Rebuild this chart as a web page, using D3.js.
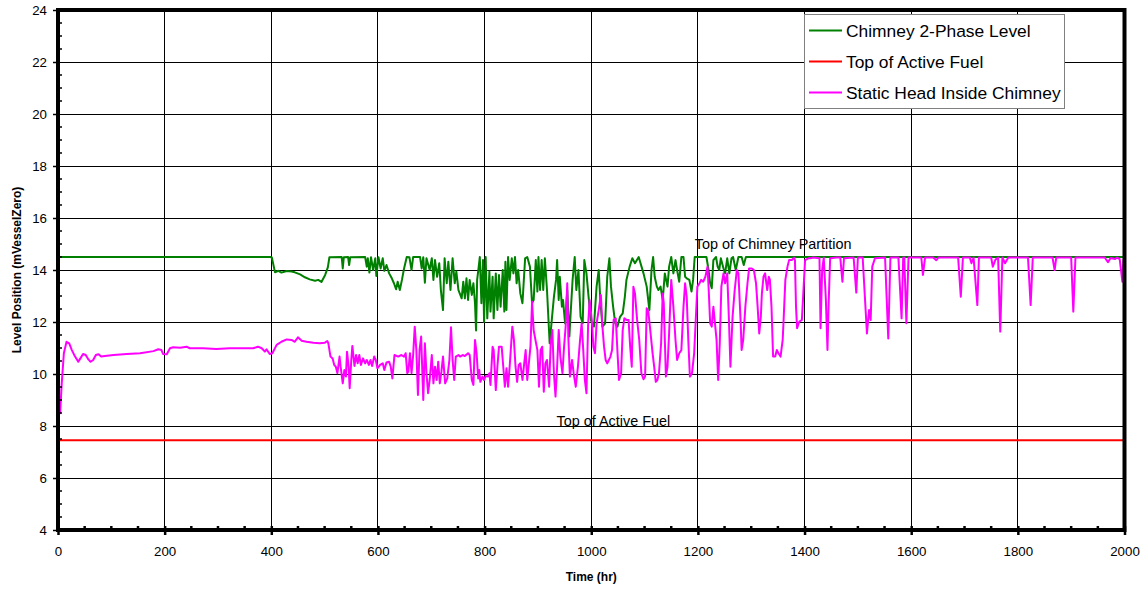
<!DOCTYPE html>
<html>
<head>
<meta charset="utf-8">
<script src="https://cdn.jsdelivr.net/npm/d3@7"></script>
<style>
  html, body { margin: 0; padding: 0; background: #fff; }
  svg { display: block; font-family: "Liberation Sans", Arial, sans-serif; }
</style>
</head>
<body>
<svg id="chart" width="1147" height="590"></svg>
<script>
// ---------------- DATA ----------------
const xTicks = [0, 200, 400, 600, 800, 1000, 1200, 1400, 1600, 1800, 2000];
const yTicks = [4, 6, 8, 10, 12, 14, 16, 18, 20, 22, 24];
const seriesNames = ["Chimney 2-Phase Level", "Top of Active Fuel", "Static Head Inside Chimney"];
const seriesColors = ["#008000", "#ff0000", "#ff00ff"];
const annotations = [
  { text: "Top of Chimney Partition", t: 1194, v: 14.82 },
  { text: "Top of Active Fuel", t: 935, v: 8.0 }
];

// Top of active fuel (constant)
const topOfActiveFuel = [[0, 7.45], [2000, 7.45]];

// Chimney 2-phase level [time (hr), level (m)]
const chimneyLevel = [
  [0,14.5],[398,14.5],[401,14.48],[407,13.91],[413,13.97],[419,13.9],[429,13.96],[438,13.94],[444,13.91],
  [454,13.83],[463,13.72],[472,13.64],[482,13.59],[488,13.62],[494,13.54],[501,13.81],[506,14.1],[509,14.49],
  [532,14.5],[534,14.06],[536,14.49],[544,14.5],[546,14.19],[548,14.49],[576,14.5],[579,14.13],[581,14.45],
  [584,13.9],[587,14.49],[591,14.0],[595,14.45],[597,13.77],[601,14.49],[605,14.06],[609,14.45],[612,13.97],
  [616,14.19],[621,13.87],[626,13.68],[630,13.49],[634,13.26],[637,13.55],[641,13.23],[645,13.62],[649,14.06],
  [654,14.5],[659,14.49],[663,14.0],[666,14.5],[679,14.5],[682,14.06],[685,14.49],[688,13.51],[691,14.45],
  [697,14.0],[701,14.45],[704,13.62],[707,14.38],[711,13.74],[715,14.26],[718,13.23],[722,12.46],[725,14.45],
  [729,13.49],[732,14.32],[736,13.23],[740,14.45],[744,13.49],[747,13.94],[751,13.23],
  [757,12.91],[760,13.55],[763,12.91],[766,13.68],[769,12.85],[772,13.62],[776,13.04],[779,13.49],[782,12.72],
  [784,11.67],[786,13.62],[789,14.13],[791,14.5],[794,12.72],[797,14.38],[799,12.0],[802,14.5],[805,12.14],
  [809,13.94],[811,12.4],[815,13.74],[817,12.14],[821,13.87],[824,12.46],[827,13.81],[830,12.59],[834,14.0],
  [837,12.4],[839,14.32],[841,12.46],[844,14.5],[847,13.62],[851,14.45],[854,13.87],[857,14.5],[860,13.49],
  [863,14.0],[867,13.1],[871,12.72],[876,14.45],[880,14.5],[885,14.13],[889,12.72],[892,12.85],[896,14.38],
  [899,13.17],[901,14.5],[904,13.23],[907,14.38],[910,13.23],[913,14.45],[917,13.23],[922,11.18],[926,12.08],
  [930,12.97],[934,13.62],[936,14.38],[939,12.85],[941,13.74],[945,12.59],[947,12.85],[951,11.95],[955,13.23],
  [959,11.44],[961,12.2],[965,13.62],[969,14.5],[972,13.23],[976,14.0],[980,12.2],[984,11.95],[987,14.38],
  [991,13.87],[995,12.97],[999,12.08],[1005,11.82],[1010,13.36],[1014,14.0],[1017,12.85],[1021,11.82],
  [1026,11.95],[1030,13.74],[1034,14.45],[1037,13.36],[1041,12.59],[1045,11.95],[1049,11.82],[1054,12.2],
  [1059,12.33],[1063,12.97],[1066,13.62],[1072,14.13],[1077,14.45],[1082,14.26],[1089,14.5],
  [1098,13.87],[1104,13.36],[1109,12.46],[1113,14.0],[1116,14.5],[1119,13.74],[1123,13.36],[1126,13.23],
  [1130,13.36],[1134,12.85],[1138,13.87],[1143,13.36],[1146,14.13],[1150,14.5],[1154,13.87],[1158,14.38],
  [1161,14.0],[1165,13.55],[1169,14.5],[1173,14.5],[1176,13.74],[1179,13.68],[1184,13.62],[1188,13.17],
  [1191,13.62],[1194,14.5],[1216,14.5],[1220,14.0],[1223,13.49],[1226,13.3],[1229,14.38],[1234,14.5],
  [1237,14.13],[1240,14.0],[1243,14.45],[1248,14.06],[1251,13.87],[1255,14.45],[1259,13.87],[1263,14.45],
  [1266,14.5],[1271,14.0],[1276,14.5],[1282,14.5],[1286,14.19],[1290,14.5],[2000,14.5]
];

// Static head inside chimney [time (hr), level (m)]
const staticHead = [
  [0,8.62],[4,8.49],[7,9.64],[11,10.8],[16,11.24],[21,11.18],[26,10.92],[32,10.67],[38,10.47],[42,10.6],
  [47,10.77],[52,10.73],[57,10.56],[61,10.47],[66,10.54],[71,10.73],[76,10.76],[81,10.67],[88,10.69],
  [104,10.73],[129,10.77],[154,10.8],[179,10.88],[188,10.95],[194,10.92],[197,10.77],[204,10.76],[210,10.99],
  [216,11.03],[229,11.01],[241,11.05],[247,10.99],[272,10.99],[297,10.96],[322,10.99],[347,10.99],[366,10.99],
  [375,11.05],[382,10.99],[388,10.86],[391,10.95],[397,10.77],[402,10.8],[410,11.12],[419,11.24],[429,11.33],
  [438,11.31],[444,11.24],[450,11.41],[457,11.28],[466,11.24],[479,11.2],[491,11.18],[500,11.2],[505,11.27],
  [507,11.18],[511,10.67],[515,10.6],[518,10.35],[521,10.28],[524,10.03],[528,10.67],[530,10.28],[534,9.64],
  [537,10.15],[540,9.9],[542,10.86],[545,10.28],[547,9.45],[550,10.54],[552,11.08],[556,10.31],[559,10.73],
  [562,10.41],[565,10.73],[568,10.35],[572,10.6],[576,10.41],[579,10.54],[583,10.35],[586,10.54],[589,10.31],
  [593,10.67],[596,10.54],[599,10.22],[604,10.35],[609,10.41],[612,10.15],[616,10.44],[621,10.47],[624,10.28],
  [627,9.83],[631,10.73],[638,10.67],[644,10.73],[649,10.67],[652,10.8],[655,10.03],[657,10.09],[660,10.8],
  [663,10.03],[666,10.73],[669,11.82],[672,10.92],[675,9.19],[678,10.92],[681,11.44],[685,9.0],[688,11.18],
  [691,10.03],[694,9.26],[697,9.77],[701,10.73],[704,9.64],[707,10.28],[710,9.77],[713,10.47],[716,9.64],
  [719,10.09],[722,10.67],[726,9.64],[730,9.83],[734,10.54],[737,11.8],[740,10.54],[743,9.77],[746,10.67],
  [751,10.73],[754,10.67],[759,10.73],[763,10.69],[769,10.8],[772,10.73],[776,9.77],[779,9.58],[782,11.31],
  [785,10.8],[788,9.83],[790,10.15],[792,9.7],[796,9.9],[799,9.77],[802,9.92],[806,9.9],[809,10.03],[811,9.58],
  [815,11.05],[817,10.92],[821,9.38],[824,10.28],[827,11.05],[832,11.05],[835,10.28],[838,9.51],[841,10.22],
  [844,9.51],[847,10.28],[852,11.82],[855,11.31],[858,10.28],[861,9.7],[864,10.35],[867,10.41],[871,9.77],
  [874,10.35],[877,10.92],[880,9.77],[883,10.41],[886,11.05],[889,12.78],[892,11.69],[896,11.24],[899,10.92],
  [902,9.51],[905,10.92],[908,11.05],[911,9.32],[914,10.41],[917,10.54],[921,9.51],[924,11.18],[927,11.69],
  [930,10.03],[933,9.13],[936,10.28],[939,11.69],[942,10.67],[946,10.03],[949,11.05],[952,11.82],[955,13.49],
  [957,11.44],[960,9.9],[964,10.54],[967,10.03],[971,9.51],[975,10.28],[979,11.31],[982,11.95],[985,10.92],
  [988,9.77],[991,9.26],[994,11.82],[997,12.85],[1001,12.08],[1004,11.05],[1007,10.8],[1010,11.95],[1014,12.46],
  [1018,13.04],[1021,11.82],[1024,11.05],[1027,10.54],[1030,10.41],[1033,10.54],[1036,10.67],[1039,10.92],
  [1042,12.08],[1046,12.14],[1049,10.92],[1052,9.77],[1056,10.03],[1059,11.69],[1062,12.14],[1066,12.08],
  [1070,12.08],[1073,11.05],[1076,10.28],[1079,13.36],[1082,13.1],[1086,12.08],[1090,11.31],[1094,10.03],
  [1098,9.8],[1101,9.9],[1104,12.53],[1107,12.4],[1110,11.82],[1115,10.8],[1118,10.28],[1121,9.7],[1124,9.77],
  [1127,10.03],[1131,11.18],[1134,13.1],[1136,12.72],[1140,9.9],[1143,10.28],[1146,11.56],[1150,13.62],
  [1154,12.59],[1158,11.31],[1161,10.54],[1165,10.8],[1169,10.92],[1173,12.59],[1176,13.49],[1179,12.97],
  [1182,11.31],[1185,9.9],[1189,10.03],[1193,10.8],[1196,12.08],[1199,13.36],[1203,13.49],[1206,13.62],
  [1210,13.55],[1214,13.74],[1218,14.13],[1220,13.36],[1223,11.95],[1226,11.82],[1229,12.59],[1232,11.95],
  [1235,11.31],[1238,9.77],[1241,11.18],[1244,13.36],[1248,13.87],[1251,13.49],[1255,13.87],[1258,12.2],
  [1261,10.28],[1265,12.2],[1269,13.23],[1273,14.0],[1276,13.87],[1280,12.08],[1282,10.92],[1285,11.31],
  [1289,12.59],[1293,13.49],[1296,14.06],[1301,14.06],[1305,14.0],[1309,13.49],[1312,12.59],[1315,11.56],
  [1318,12.2],[1320,13.1],[1323,13.74],[1326,13.87],[1330,13.23],[1333,13.74],[1335,13.62],[1338,12.59],
  [1341,10.67],[1345,10.67],[1348,10.92],[1351,10.8],[1355,10.67],[1359,11.31],[1361,12.2],[1364,13.62],
  [1368,14.13],[1371,14.38],[1376,14.38],[1380,14.48],[1382,14.38],[1384,12.59],[1386,11.76],[1390,12.01],
  [1395,12.08],[1399,13.62],[1401,14.38],[1407,14.45],[1411,14.45],[1416,14.48],[1428,14.45],[1430,11.76],
  [1433,14.0],[1436,14.48],[1440,12.85],[1443,10.92],[1445,12.59],[1448,14.45],[1460,14.48],[1467,14.48],
  [1471,13.55],[1474,14.45],[1492,14.48],[1497,13.13],[1500,14.48],[1509,14.48],[1517,11.56],[1521,12.46],
  [1524,12.08],[1527,14.13],[1532,14.45],[1551,14.48],[1557,11.37],[1561,14.48],[1576,14.48],[1582,12.14],
  [1585,14.48],[1587,14.48],[1591,11.95],[1595,14.48],[1619,14.48],[1622,13.81],[1626,14.48],[1641,14.48],
  [1647,14.38],[1651,14.48],[1688,14.48],[1693,12.97],[1697,14.48],[1710,14.48],[1713,14.26],[1717,14.48],
  [1724,12.65],[1727,14.48],[1750,14.48],[1753,14.13],[1758,14.4],[1763,14.48],[1767,11.63],[1771,14.48],
  [1776,14.26],[1782,14.48],[1819,14.48],[1824,12.65],[1828,14.48],[1865,14.48],[1869,14.0],[1872,14.48],
  [1900,14.48],[1904,12.4],[1908,14.48],[1963,14.48],[1969,14.3],[1974,14.46],[1982,14.42],[1986,14.48],
  [1991,14.42],[1996,13.55],[1998,14.4],[2000,14.48]
];

// ---------------- CHART ----------------
const svg = d3.select("#chart");
const mLeft = 58, mRight = 1124.5, mTop = 10, mBottom = 530;
const x = d3.scaleLinear().domain([0, 2000]).range([mLeft, mRight]);
const y = d3.scaleLinear().domain([4, 24]).range([mBottom, mTop]);

// gridlines
const grid = svg.append("g").attr("shape-rendering", "crispEdges");
grid.selectAll("line.v").data(xTicks).join("line").attr("class", "v")
  .attr("x1", d => x(d)).attr("x2", d => x(d)).attr("y1", mTop).attr("y2", mBottom)
  .attr("stroke", "#000").attr("stroke-width", 1);
grid.selectAll("line.h").data(yTicks).join("line").attr("class", "h")
  .attr("x1", mLeft).attr("x2", mRight).attr("y1", d => y(d)).attr("y2", d => y(d))
  .attr("stroke", "#000").attr("stroke-width", 1);

// series
const line = d3.line().x(d => x(d[0])).y(d => y(d[1]));
const seriesData = [chimneyLevel, topOfActiveFuel, staticHead];
seriesData.forEach((data, i) => {
  svg.append("path").datum(data)
    .attr("d", line)
    .attr("fill", "none")
    .attr("stroke", seriesColors[i])
    .attr("stroke-width", 2)
    .attr("stroke-linejoin", "round");
});

// annotations
svg.selectAll("text.ann").data(annotations).join("text").attr("class", "ann")
  .attr("x", d => x(d.t)).attr("y", d => y(d.v))
  .attr("font-size", "14.4px").attr("fill", "#000")
  .text(d => d.text);

// axes
const fontSize = "13.3px";
const xAxis = d3.axisBottom(x).tickValues(xTicks).tickSize(5).tickPadding(12).tickFormat(d3.format("d"));
const gx = svg.append("g").attr("transform", `translate(0,${mBottom})`).call(xAxis);
gx.select(".domain").remove();
gx.selectAll(".tick line").attr("y1", -4).attr("stroke-width", 2.5);
gx.selectAll("text").attr("font-size", fontSize).attr("font-family", "Liberation Sans, Arial, sans-serif").attr("fill", "#000");

const yAxis = d3.axisLeft(y).tickValues(yTicks).tickSize(5).tickPadding(6);
const gy = svg.append("g").attr("transform", `translate(${mLeft},0)`).call(yAxis);
gy.select(".domain").remove();
gy.selectAll(".tick line").attr("stroke-width", 1.5);
gy.selectAll("text").attr("font-size", fontSize).attr("font-family", "Liberation Sans, Arial, sans-serif").attr("fill", "#000");

// minor ticks
const xMinor = d3.range(50, 2000, 50).filter(v => v % 200 !== 0);
svg.append("g").selectAll("line").data(xMinor).join("line")
  .attr("x1", d => x(d)).attr("x2", d => x(d)).attr("y1", mBottom).attr("y2", mBottom - 4)
  .attr("stroke", "#000").attr("stroke-width", 2.5);
const yMinor = d3.range(4.5, 24, 0.5).filter(v => Math.abs(v - Math.round(v / 2) * 2) > 1e-6);
svg.append("g").selectAll("line").data(yMinor).join("line")
  .attr("x1", mLeft).attr("x2", mLeft + 4).attr("y1", d => y(d)).attr("y2", d => y(d))
  .attr("stroke", "#000").attr("stroke-width", 1.5);

// frame
svg.append("rect").attr("x", mLeft).attr("y", mTop).attr("width", mRight - mLeft).attr("height", mBottom - mTop)
  .attr("fill", "none").attr("stroke", "#000").attr("stroke-width", 4);

// axis titles
svg.append("text").attr("x", (mLeft + mRight) / 2).attr("y", 581)
  .attr("text-anchor", "middle").attr("font-size", "12px").attr("font-weight", "bold")
  .text("Time (hr)");
svg.append("text").attr("transform", `translate(21,${(mTop + mBottom) / 2}) rotate(-90)`)
  .attr("text-anchor", "middle").attr("font-size", "12px").attr("font-weight", "bold")
  .text("Level Position (mVesselZero)");

// legend
const lg = svg.append("g");
lg.append("rect").attr("x", 804.5).attr("y", 14.5).attr("width", 260).attr("height", 94)
  .attr("fill", "#fff").attr("stroke", "#808080").attr("stroke-width", 1);
seriesNames.forEach((name, i) => {
  const ly = 30.5 + i * 31;
  lg.append("line").attr("x1", 809).attr("x2", 842).attr("y1", ly).attr("y2", ly)
    .attr("stroke", seriesColors[i]).attr("stroke-width", 2);
  lg.append("text").attr("x", 846).attr("y", ly + 6).attr("font-size", "17.4px").attr("fill", "#000").text(name);
});
</script>
</body>
</html>
